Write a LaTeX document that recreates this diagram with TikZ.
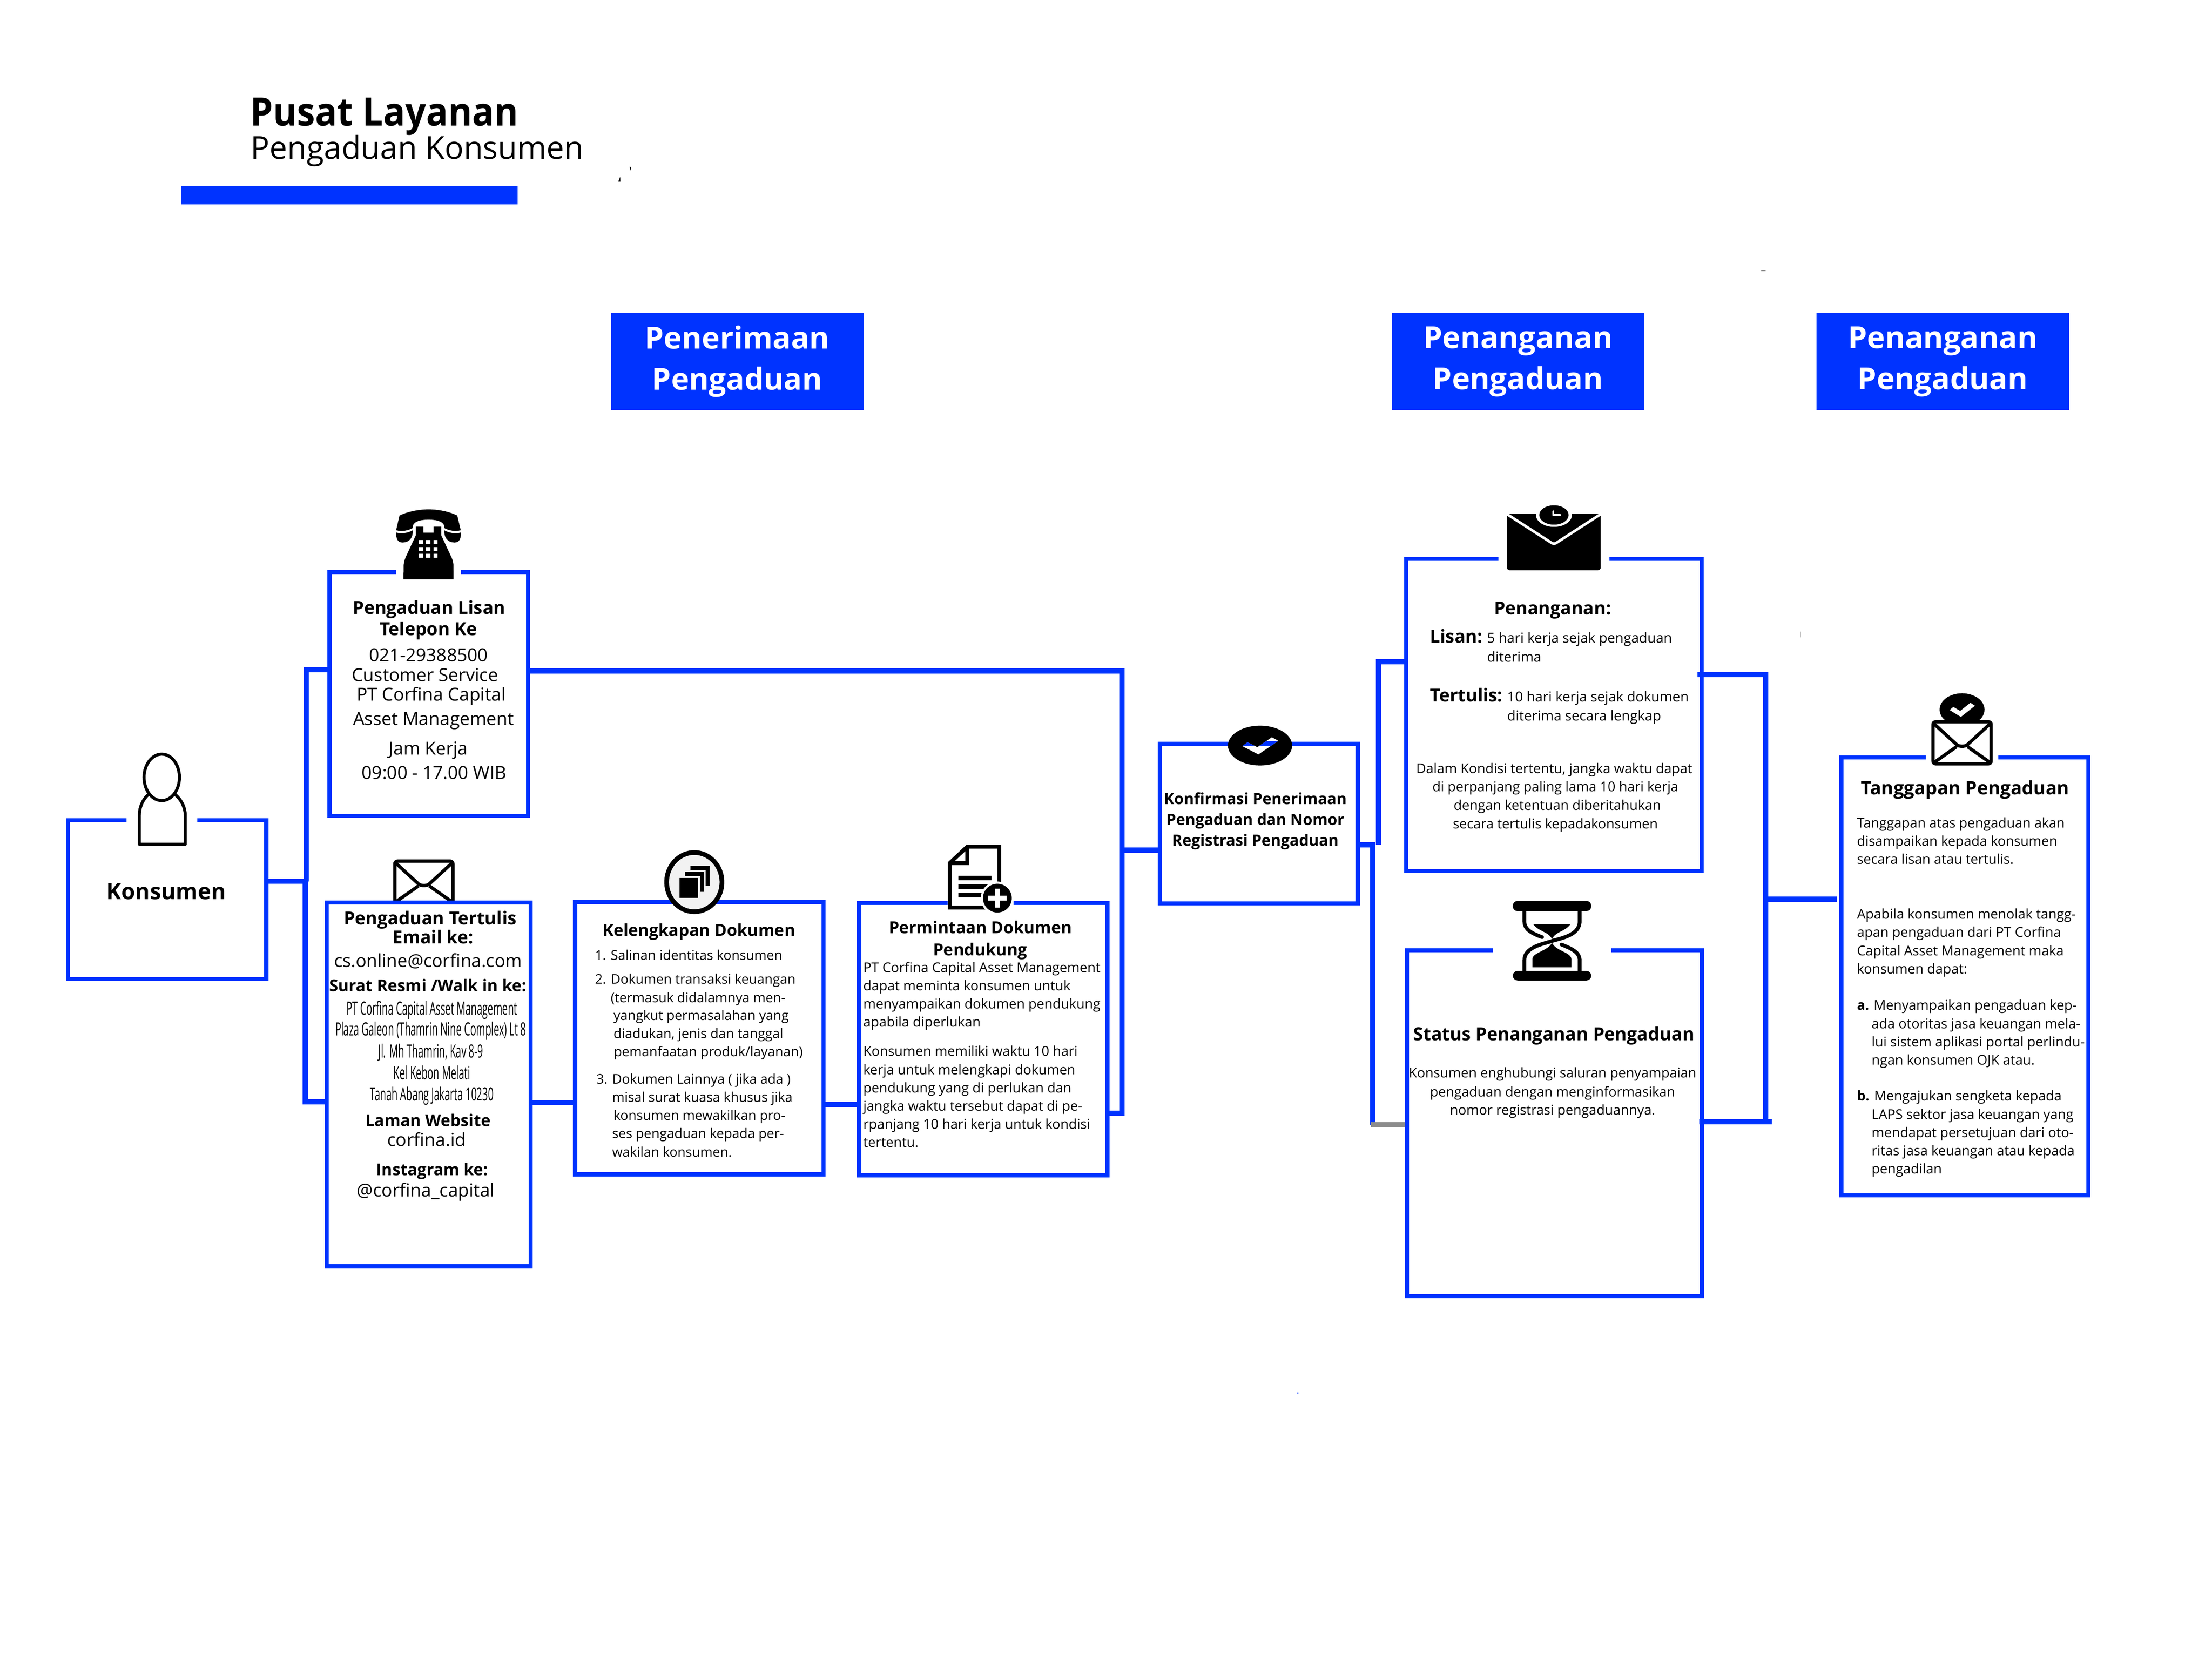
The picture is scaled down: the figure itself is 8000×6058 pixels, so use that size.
\documentclass[tikz,border=0pt]{standalone}
\usepackage{fontspec}
\setmainfont{Open Sans}
\newfontfamily\opennarrow[FakeStretch=0.535]{Open Sans}
\newfontfamily\opentitle[FakeStretch=0.93]{Open Sans}
\definecolor{bandblue}{HTML}{0033FF}
\definecolor{linkgray}{HTML}{8C8C8C}
\definecolor{ringfill}{HTML}{F2F2F2}
\def\capfont{\bfseries\fontsize{6.5}{8}\selectfont}
\def\subfont{\bfseries\fontsize{5.9}{8}\selectfont}
\def\docfont{\bfseries\fontsize{6.0}{8}\selectfont}
\def\infofont{\fontsize{6.5}{8}\selectfont}
\def\smallfont{\fontsize{4.9}{6.6}\selectfont}
\def\narrowfont{\opennarrow\fontsize{6.6}{8}\selectfont}
\tikzset{
	panel/.style={draw=bandblue,fill=white,line width=1.5pt,inner sep=0pt},
	banner/.style={fill=bandblue,text=white,inner sep=0pt,align=center,minimum width=91.3pt,minimum height=35.2pt,font=\bfseries\fontsize{11}{14.9}\selectfont},
	link/.style={draw=bandblue,line width=1.9pt},
	txt/.style={inner sep=0pt,anchor=base},
	ltxt/.style={inner sep=0pt,anchor=base west},
	mailicon/.pic={
		\draw[fill=white,line width=1.2pt,rounded corners=1pt] (-105,-76) rectangle (105,76);
		\draw[line width=1.2pt] (-105,-72) -- (-18,8) .. controls (-8,14) and (8,14) .. (18,8) -- (105,-72);
		\draw[line width=1.2pt] (-105,74) -- (-20,14) (105,74) -- (20,14);
	},
	checkeye/.pic={
		\fill (0,0) ellipse [x radius=116,y radius=72];
		\fill[white] (-64,2) -- (-45,-12) -- (-10,6) -- (43,-30) -- (66,-17) -- (-6,32) -- cycle;
	},
}
\begin{document}
\begin{tikzpicture}[x=0.1pt,y=-0.1pt,line join=miter]
	\useasboundingbox (0,0) rectangle (8000,6058);
	\fill[white] (0,0) rectangle (8000,6058);
	% title
	\node[ltxt,font=\opentitle\bfseries\fontsize{14.2}{16}\selectfont] (title) at (903,455) {Pusat Layanan};
	\node[ltxt,font=\fontsize{11.4}{13}\selectfont] (subtitle) at (905,576) {Pengaduan Konsumen};
	\fill[bandblue] (654,672) rectangle (1872,740);
	\fill (2277,604) -- (2282,604) -- (2281,617) -- cycle (2243,640) -- (2244,657) -- (2236,657) -- cycle;
	\fill (6370,978) rectangle (6385,981);
	\fill[bandblue!60] (4690,5036) rectangle (4696,5042);
	\fill[gray!50] (6511,2285) rectangle (6513,2305);
	% banners
	\node[banner] (phaseA) at (2666,1308) {Penerimaan\\Pengaduan};
	\node[banner] (phaseB) at (5490,1308) {Penanganan\\Pengaduan};
	\node[banner] (phaseC) at (7026,1308) {Penanganan\\Pengaduan};
	% panels
	\pic at (1533,3191) {mailicon};
	\node[panel,minimum width=71.7pt,minimum height=57.5pt] (konsumen) at (604.5,3254.5) {};
	\node[panel,minimum width=71.8pt,minimum height=88.1pt] (lisan) at (1551,2510.5) {};
	\node[panel,minimum width=73.7pt,minimum height=131.6pt] (tertulis) at (1550.5,3923) {};
	\node[panel,minimum width=89.8pt,minimum height=98.5pt] (lengkap) at (2529,3755.5) {};
	\node[panel,minimum width=89.8pt,minimum height=98.5pt] (minta) at (3556,3758.5) {};
	\node[panel,minimum width=71.7pt,minimum height=57.7pt] (konfirm) at (4552.5,2979.5) {};
	\node[panel,minimum width=106.8pt,minimum height=112.9pt] (tangani) at (5620,2586.5) {};
	\node[panel,minimum width=106.6pt,minimum height=125.1pt] (status) at (5622,4063.5) {};
	\node[panel,minimum width=89.4pt,minimum height=158.4pt] (tanggapan) at (7106,3532) {};
	% connectors
	\coordinate (busTop) at (1108,2423);
	\coordinate (busMid) at (1108,3188);
	\coordinate (busMidB) at (1104,3188);
	\coordinate (busBot) at (1104,3986);
	\draw[link] (lisan.west |- busTop) -- (busTop) -- (busMid);
	\draw[link] (konsumen.east |- busMid) -- (busMid);
	\draw[link] (busMidB) -- (busBot) -- (tertulis.west |- busBot);
	\coordinate (stepA) at (2000,3988);
	\coordinate (stepB) at (3040,3995);
	\draw[link] (tertulis.east |- stepA) -- (lengkap.west |- stepA);
	\draw[link] (lengkap.east |- stepB) -- (minta.west |- stepB);
	\coordinate (relayA) at (4057,2427);
	\coordinate (relayB) at (4057,4027);
	\coordinate (relayC) at (4057,3075);
	\draw[link] (lisan.east |- relayA) -- (relayA) -- (relayB) -- (minta.east |- relayB);
	\draw[link] (relayC) -- (konfirm.west |- relayC);
	\coordinate (splitA) at (4985,2394);
	\coordinate (splitB) at (4985,3056);
	\coordinate (splitC) at (4965,3056);
	\coordinate (splitD) at (4965,4069);
	\draw[link] (tangani.west |- splitA) -- (splitA) -- (splitB);
	\draw[link] (konfirm.east |- splitC) -- (splitC) -- (splitD);
	\draw[link,draw=linkgray] (splitD) ++(-6,0) -- (status.west |- splitD);
	\coordinate (mergeA) at (6385,2440);
	\coordinate (mergeB) at (6385,4058);
	\coordinate (mergeC) at (6385,3253);
	\coordinate (mergeD) at (6408,4058);
	\draw[link,shorten <=-2.3pt] (tangani.east |- mergeA) -- (mergeA) -- (mergeB);
	\draw[link,shorten <=-1.7pt] (status.east |- mergeD) -- (mergeD);
	\draw[link,line width=2pt,shorten >=0.8pt] (mergeC) -- (tanggapan.west |- mergeC);
	% person icon
	\fill[white] (458,2950) rectangle (713,2990);
	\draw[line width=1.1pt,line join=round] (504,3054) -- (504,2950) .. controls (504,2915) and (520,2885) .. (545,2867) -- (625,2867) .. controls (650,2885) and (670,2915) .. (670,2950) -- (670,3054) -- cycle;
	\draw[fill=white,line width=1.1pt] (585,2812) ellipse [x radius=64,y radius=84];
	% phone icon
	\fill[white] (1432,2050) rectangle (1667,2090);
	\begin{scope}[shift={(1410,1830)},x=0.0333pt,y=-0.0333pt]
		\fill (68,265) -- (105,105) .. controls (200,60) and (320,38) .. (420,38) .. controls (520,38) and (640,60) .. (732,105) -- (770,265) .. controls (710,280) and (640,270) .. (590,240) -- (590,215) .. controls (575,165) and (500,150) .. (420,150) .. controls (340,150) and (265,165) .. (250,215) -- (250,240) .. controls (200,270) and (130,280) .. (68,265) -- cycle;
		\fill (68,290) .. controls (130,305) and (200,295) .. (250,265) .. controls (250,340) and (220,395) .. (140,398) .. controls (85,398) and (68,360) .. (68,290) -- cycle;
		\fill (772,290) .. controls (710,305) and (640,295) .. (590,265) .. controls (590,340) and (620,395) .. (700,398) .. controls (755,398) and (772,360) .. (772,290) -- cycle;
		\fill (148,798) -- (150,640) .. controls (155,600) and (165,570) .. (180,540) -- (282,320) -- (282,225) -- (365,225) -- (365,292) -- (475,292) -- (475,225) -- (558,225) -- (558,320) -- (660,540) .. controls (675,570) and (688,600) .. (690,640) -- (692,798) -- cycle;
		\foreach \kx in {316,394,473}
			\foreach \ky in {372,446,520}
				\fill[white] (\kx,\ky) rectangle ++(47,44);
	\end{scope}
	% document stack icon
	\draw[fill=ringfill,line width=1.7pt] (2511,3191) ellipse [x radius=100,y radius=107];
	\fill (2457,3176) rectangle (2525,3248);
	\fill (2477,3154) -- (2546,3154) -- (2546,3226) -- (2532,3226) -- (2532,3169) -- (2477,3169) -- cycle;
	\fill (2497,3133) -- (2566,3133) -- (2566,3205) -- (2552,3205) -- (2552,3147) -- (2497,3147) -- cycle;
	% request icon
	\fill[white] (3427,3250) rectangle (3666,3290);
	\draw[line width=1.4pt,line join=miter,fill=white] (3435,3283) -- (3435,3122) -- (3498,3063) -- (3614,3063) -- (3614,3283) -- cycle;
	\draw[line width=1.4pt] (3435,3122) -- (3498,3122) -- (3498,3063);
	\fill (3466,3168) rectangle (3586,3184) (3466,3198) rectangle (3574,3216) (3466,3230) rectangle (3550,3246);
	\fill[white] (3607,3249) circle [radius=60];
	\fill (3607,3249) circle [radius=52];
	\fill[white] (3573,3240) rectangle (3641,3258) (3598,3215) rectangle (3616,3283);
	% confirmation icon
	\pic at (4557,2697) {checkeye};
	\begin{scope}
		\clip (4493,2699) -- (4512,2685) -- (4547,2703) -- (4600,2667) -- (4623,2680) -- (4551,2729) -- cycle;
		\fill[bandblue] (4480,2682) rectangle (4640,2697);
	\end{scope}
	% clock mail icon
	\fill[white] (5419,2000) rectangle (5820,2040);
	\fill[rounded corners=1pt] (5450,1859) rectangle (5789,2063);
	\draw[white,line width=0.95pt,line join=round] (5447,1858) -- (5610,1963) .. controls (5617,1968) and (5623,1968) .. (5630,1963) -- (5792,1858);
	\fill[white] (5440,1829) rectangle (5800,1859);
	\fill[white] (5620,1863) ellipse [x radius=65,y radius=43];
	\fill (5620,1863) ellipse [x radius=53,y radius=35];
	\draw[white,line width=0.7pt,line cap=round,line join=round] (5618,1850) -- (5618,1863) -- (5642,1863);
	% hourglass icon
	\fill[white] (5400,3420) rectangle (5827,3460);
	\fill[rounded corners=1.8pt] (5471,3259) rectangle (5755,3296) (5471,3512) rectangle (5755,3547);
	\draw[line width=1.35pt,line cap=round] (5513,3290) -- (5513,3333) .. controls (5513,3360) and (5535,3375) .. (5577,3390);
	\draw[line width=1.35pt] (5713,3290) -- (5713,3333) .. controls (5713,3385) and (5640,3395) .. (5613,3404) .. controls (5585,3414) and (5513,3425) .. (5513,3473) -- (5513,3515);
	\draw[line width=1.35pt,line cap=round] (5647,3417) .. controls (5690,3433) and (5713,3448) .. (5713,3473) -- (5713,3515);
	\fill (5546,3344) -- (5679,3344) .. controls (5660,3370) and (5625,3370) .. (5613,3397) .. controls (5600,3370) and (5565,3370) .. (5546,3344) -- cycle;
	\fill (5613,3410) .. controls (5625,3440) and (5683,3445) .. (5683,3470) -- (5683,3499) -- (5542,3499) -- (5542,3470) .. controls (5542,3445) and (5600,3440) .. (5613,3410) -- cycle;
	% reply icon
	\fill[white] (6964,2725) rectangle (7227,2750);
	\pic[xscale=0.7,yscale=0.82] at (7096,2567) {checkeye};
	\pic at (7096,2687) {mailicon};
	% texts
	\node[txt,font=\bfseries\fontsize{8.1}{9}\selectfont] (konsumenLabel) at (601,3253) {Konsumen};
	\foreach \i/\px/\py/\tl in {1/1552/2222/{Pengaduan Lisan},2/1549/2299/{Telepon Ke}}
		\node[txt,font=\capfont] (lisanHead\i) at (\px,\py) {\tl};
	\foreach \i/\px/\py/\tl in {1/1550/2393/{021-29388500},2/1537/2465/{Customer Service},3/1560/2535/{PT Corfina Capital},4/1568/2623/{Asset Management},5/1549/2730/{Jam Kerja},6/1570/2819/{09:00 - 17.00 WIB}}
		\node[txt,font=\infofont] (lisanInfo\i) at (\px,\py) {\tl};
	\foreach \i/\px/\py/\tl in {1/1556/3345/{Pengaduan Tertulis},2/1566/3414/{Email ke:}}
		\node[txt,font=\capfont] (tulisHead\i) at (\px,\py) {\tl};
	\node[txt,font=\fontsize{6.45}{8}\selectfont] (tulisMail) at (1548,3498) {cs.online@corfina.com};
	\foreach \i/\px/\py/\tl in {1/1547/3586/{Surat Resmi /Walk in ke:},2/1548/4074/{Laman Website},3/1563/4252/{Instagram ke:}}
		\node[txt,font=\subfont] (tulisSub\i) at (\px,\py) {\tl};
	\foreach \i/\px/\py/\tl in {1/1562/3671/{PT Corfina Capital Asset Management},2/1558/3747/{Plaza Galeon (Thamrin Nine Complex) Lt 8},3/1558/3827/{Jl. Mh Thamrin, Kav 8-9},4/1562/3904/{Kel Kebon Melati},5/1562/3982/{Tanah Abang Jakarta 10230}}
		\node[txt,font=\narrowfont] (tulisAddr\i) at (\px,\py) {\tl};
	\foreach \i/\px/\py/\tl in {1/1543/4147/{corfina.id},2/1540/4329/{@corfina\_capital}}
		\node[txt,font=\infofont] (tulisWeb\i) at (\px,\py) {\tl};
	\node[txt,font=\docfont] (lengkapHead) at (2528,3386) {Kelengkapan Dokumen};
	\foreach \i/\px/\py/\tl in {1/2150/3473/{1. Salinan identitas konsumen},2/2150/3559/{2. Dokumen transaksi keuangan},3/2207/3626/{(termasuk didalamnya men-},4/2217/3691/{yangkut permasalahan yang},5/2217/3756/{diadukan, jenis dan tanggal},6/2218/3822/{pemanfaatan produk/layanan)},7/2155/3920/{3. Dokumen Lainnya ( jika ada )},8/2212/3986/{misal surat kuasa khusus jika},9/2217/4052/{konsumen mewakilkan pro-},10/2212/4118/{ses pengaduan kepada per-},11/2212/4184/{wakilan konsumen.}}
		\node[ltxt,font=\fontsize{4.82}{6.6}\selectfont] (lengkapItem\i) at (\px,\py) {\tl};
	\node[txt,font=\docfont] (mintaHeadA) at (3546,3376) {Permintaan Dokumen};
	\node[txt,font=\docfont] (mintaHeadB) at (3545,3457) {Pendukung};
	\foreach \i/\py/\tl in {1/3517/{PT Corfina Capital Asset Management},2/3583/{dapat meminta konsumen untuk},3/3649/{menyampaikan dokumen pendukung},4/3715/{apabila diperlukan},5/3820/{Konsumen memiliki waktu 10 hari},6/3887/{kerja untuk melengkapi dokumen},7/3953/{pendukung yang di perlukan dan},8/4018/{jangka waktu tersebut dapat di pe-},9/4084/{rpanjang 10 hari kerja untuk kondisi},10/4150/{tertentu.}}
		\node[ltxt,font=\smallfont] (mintaItem\i) at (3120,\py) {\tl};
	\foreach \i/\py/\tl in {1/2910/{Konfirmasi Penerimaan},2/2985/{Pengaduan dan Nomor},3/3060/{Registrasi Pengaduan}}
		\node[txt,font=\bfseries\fontsize{5.6}{7}\selectfont] (konfirmHead\i) at (4540,\py) {\tl};
	\node[txt,font=\capfont] (tanganiHead) at (5615,2224) {Penanganan:};
	\node[ltxt,font=\capfont] (lisanKey) at (5170,2326) {Lisan:};
	\node[ltxt,font=\capfont] (tulisKey) at (5170,2539) {Tertulis:};
	\foreach \i/\px/\py/\tl in {1/5376/2326/{5 hari kerja sejak pengaduan},2/5376/2395/{diterima},3/5449/2539/{10 hari kerja sejak dokumen},4/5449/2608/{diterima secara lengkap}}
		\node[ltxt,font=\fontsize{5}{6.6}\selectfont] (tanganiTime\i) at (\px,\py) {\tl};
	\foreach \i/\px/\py/\tl in {1/5621/2797/{Dalam Kondisi tertentu, jangka waktu dapat},2/5625/2864/{di perpanjang paling lama 10 hari kerja},3/5632/2930/{dengan ketentuan diberitahukan},4/5625/2997/{secara tertulis kepadakonsumen}}
		\node[txt,font=\smallfont] (tanganiNote\i) at (\px,\py) {\tl};
	\node[txt,font=\bfseries\fontsize{6.55}{8}\selectfont] (statusHead) at (5620,3764) {Status Penanganan Pengaduan};
	\foreach \i/\py/\tl in {1/3899/{Konsumen enghubungi saluran penyampaian},2/3967/{pengaduan dengan menginformasikan},3/4032/{nomor registrasi pengaduannya.}}
		\node[txt,font=\smallfont] (statusItem\i) at (5615,\py) {\tl};
	\node[txt,font=\bfseries\fontsize{6.7}{8}\selectfont] (tanggapanHead) at (7107,2874) {Tanggapan Pengaduan};
	\foreach \i/\py/\tl in {1/2994/{Tanggapan atas pengaduan akan},2/3060/{disampaikan kepada konsumen},3/3126/{secara lisan atau tertulis.},4/3324/{Apabila konsumen menolak tangg-},5/3390/{apan pengaduan dari PT Corfina},6/3456/{Capital Asset Management maka},7/3522/{konsumen dapat:},8/3654/{\textbf{a.} Menyampaikan pengaduan kep-},9/3982/{\textbf{b.} Mengajukan sengketa kepada}}
		\node[ltxt,font=\smallfont] (tanggapanPara\i) at (6714,\py) {\tl};
	\foreach \i/\py/\tl in {1/3720/{ada otoritas jasa keuangan mela-},2/3786/{lui sistem aplikasi portal perlindu-},3/3852/{ngan konsumen OJK atau.},4/4048/{LAPS sektor jasa keuangan yang},5/4114/{mendapat persetujuan dari oto-},6/4180/{ritas jasa keuangan atau kepada},7/4246/{pengadilan}}
		\node[ltxt,font=\smallfont] (tanggapanItem\i) at (6767,\py) {\tl};
\end{tikzpicture}
\end{document}
